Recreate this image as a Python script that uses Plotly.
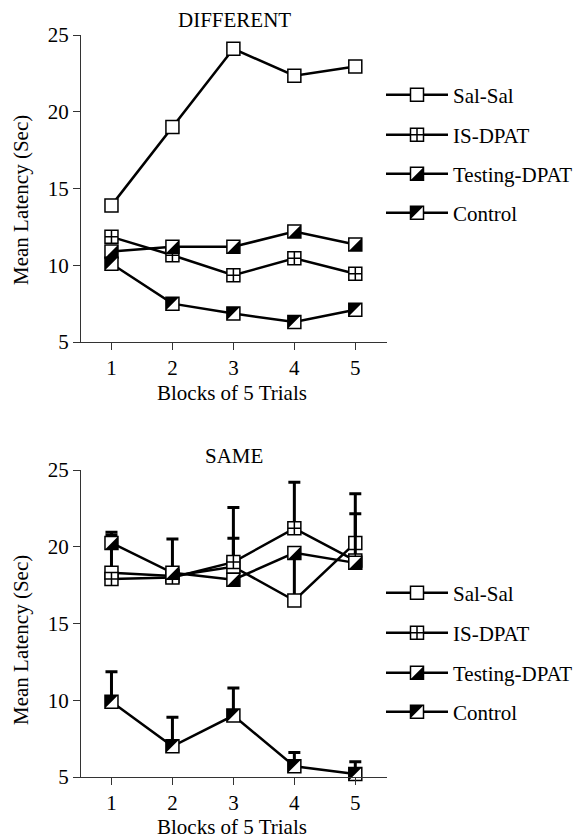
import plotly.graph_objects as go

# ---------------- data ----------------
blocks = [1, 2, 3, 4, 5]
series_names = ["Sal-Sal", "IS-DPAT", "Testing-DPAT", "Control"]

diff_sal_sal = [13.9, 19.0, 24.1, 22.35, 22.95]
diff_is_dpat = [11.85, 10.65, 9.35, 10.45, 9.45]
diff_testing_dpat = [10.9, 11.2, 11.2, 12.2, 11.35]
diff_control = [10.1, 7.5, 6.85, 6.3, 7.1]

same_sal_sal = [18.3, 18.1, 18.7, 16.5, 20.25]
same_is_dpat = [17.9, 18.0, 19.0, 21.2, 19.1]
same_testing_dpat = [20.25, 18.3, 17.85, 19.6, 18.95]
same_control = [9.9, 7.0, 9.0, 5.7, 5.2]

same_err_sal_sal = [2.45, 2.4, 1.85, 3.0, 3.2]
same_err_is_dpat = [0, 0, 3.55, 3.0, 3.05]
same_err_testing_dpat = [0.7, 0, 0, 0, 0]
same_err_control = [1.95, 1.9, 1.8, 0.9, 0.8]

y_ticks = [5, 10, 15, 20, 25]

# ---------------- layout constants ----------------
PAGE_OFF = 8                      # default body margin of the html page
W, H = 584 - PAGE_OFF, 839 - PAGE_OFF
FONT = "Times New Roman"
FS = 21
PX_L, PX_R = 81, 387
TOP_Y = (35, 342)
BOT_Y = (470, 777)
X_RANGE = [0.5, 5.52]
Y_RANGE = [5, 25]
MS = 13                  # square marker size
TS = MS * 10.0 / 9.0     # right-triangle marker size so that its legs equal the square side
SHIFT = MS / 6.0         # px shift (toward the right-angle corner) to align with the square

def fx(px):
    return (px - PAGE_OFF) / W

def fy(py):
    return 1 - (py - PAGE_OFF) / H

x_dom = [fx(PX_L), fx(PX_R)]
px_per_x = (PX_R - PX_L) / (X_RANGE[1] - X_RANGE[0])
px_per_y = (TOP_Y[1] - TOP_Y[0]) / (Y_RANGE[1] - Y_RANGE[0])
dxu = SHIFT / px_per_x
dyu = SHIFT / px_per_y

fig = go.Figure()

square_marker = dict(symbol="square", size=MS, color="white",
                     line=dict(color="black", width=1.5))
cross_marker = dict(symbol="square-cross", size=MS, color="white",
                    line=dict(color="black", width=1.5))
line_style = dict(color="black", width=2.5)


def add_panel(xa, ya, xa_t, ya_t, xa_c, ya_c, sal, isd, tes, con, errs, leg_ids):
    specs = [(sal, square_marker), (isd, cross_marker),
             (tes, square_marker), (con, square_marker)]
    for i, (vals, mk) in enumerate(specs):
        kw = {}
        if errs is not None:
            kw["error_y"] = dict(type="data", symmetric=False, array=errs[i],
                                 arrayminus=[0] * len(vals), color="black",
                                 thickness=3, width=6)
        fig.add_trace(go.Scatter(
            x=blocks, y=vals, name=series_names[i], mode="lines+markers",
            line=line_style, marker=mk, xaxis=xa, yaxis=ya,
            legend=leg_ids[i], cliponaxis=False, **kw))
    # half-black overlays (lower-right black for Testing-DPAT, upper-left black for Control)
    fig.add_trace(go.Scatter(
        x=blocks, y=tes, name=" ", mode="markers",
        marker=dict(symbol="triangle-se", size=TS, color="black", line=dict(width=0)),
        xaxis=xa_t, yaxis=ya_t, legend=leg_ids[4], cliponaxis=False))
    fig.add_trace(go.Scatter(
        x=blocks, y=con, name=" ", mode="markers",
        marker=dict(symbol="triangle-nw", size=TS, color="black", line=dict(width=0)),
        xaxis=xa_c, yaxis=ya_c, legend=leg_ids[5], cliponaxis=False))


add_panel("x", "y", "x3", "y3", "x4", "y4",
          diff_sal_sal, diff_is_dpat, diff_testing_dpat, diff_control, None,
          ["legend", "legend2", "legend3", "legend4", "legend5", "legend6"])
add_panel("x2", "y2", "x5", "y5", "x6", "y6",
          same_sal_sal, same_is_dpat, same_testing_dpat, same_control,
          [same_err_sal_sal, same_err_is_dpat, same_err_testing_dpat, same_err_control],
          ["legend7", "legend8", "legend9", "legend10", "legend11", "legend12"])

axis_common = dict(showline=True, linecolor="#333", linewidth=1.2, ticks="outside",
                   ticklen=7, tickwidth=1.2, tickcolor="#333", showgrid=False,
                   zeroline=False, automargin=False,
                   tickfont=dict(family=FONT, size=FS, color="black"))

layout = dict(
    width=W, height=H, autosize=False,
    margin=dict(l=0, r=0, t=0, b=0, pad=0, autoexpand=False),
    paper_bgcolor="white", plot_bgcolor="white",
    showlegend=True,
    font=dict(family=FONT, size=FS, color="black"),
    xaxis=dict(domain=x_dom, range=X_RANGE, tickvals=blocks, anchor="y", **axis_common),
    yaxis=dict(domain=[fy(TOP_Y[1]), fy(TOP_Y[0])], range=Y_RANGE, tickvals=y_ticks,
               anchor="x", **axis_common),
    xaxis2=dict(domain=x_dom, range=X_RANGE, tickvals=blocks, anchor="y2", **axis_common),
    yaxis2=dict(domain=[fy(BOT_Y[1]), fy(BOT_Y[0])], range=Y_RANGE, tickvals=y_ticks,
                anchor="x2", **axis_common),
)

hidden = dict(visible=False, showgrid=False, zeroline=False, automargin=False)
layout["xaxis3"] = dict(overlaying="x", anchor="y3", range=[X_RANGE[0] - dxu, X_RANGE[1] - dxu], **hidden)
layout["yaxis3"] = dict(overlaying="y", anchor="x3", range=[Y_RANGE[0] + dyu, Y_RANGE[1] + dyu], **hidden)
layout["xaxis4"] = dict(overlaying="x", anchor="y4", range=[X_RANGE[0] + dxu, X_RANGE[1] + dxu], **hidden)
layout["yaxis4"] = dict(overlaying="y", anchor="x4", range=[Y_RANGE[0] - dyu, Y_RANGE[1] - dyu], **hidden)
layout["xaxis5"] = dict(overlaying="x2", anchor="y5", range=[X_RANGE[0] - dxu, X_RANGE[1] - dxu], **hidden)
layout["yaxis5"] = dict(overlaying="y2", anchor="x5", range=[Y_RANGE[0] + dyu, Y_RANGE[1] + dyu], **hidden)
layout["xaxis6"] = dict(overlaying="x2", anchor="y6", range=[X_RANGE[0] + dxu, X_RANGE[1] + dxu], **hidden)
layout["yaxis6"] = dict(overlaying="y2", anchor="x6", range=[Y_RANGE[0] - dyu, Y_RANGE[1] - dyu], **hidden)

# legends: one per entry so positions match exactly
LEG_X = 381
top_leg_y = [95, 135, 174, 213]
bot_leg_y = [593, 633, 673, 712]

def leg(px, py, transparent=False):
    return dict(x=fx(px), y=fy(py), xanchor="left", yanchor="middle",
                bgcolor="rgba(0,0,0,0)", borderwidth=0, itemwidth=62,
                font=dict(family=FONT, size=FS,
                          color="rgba(0,0,0,0)" if transparent else "black"))

for base, ys in ((0, top_leg_y), (6, bot_leg_y)):
    names = ["legend" if base == 0 else "legend%d" % (base + 1)] + \
            ["legend%d" % (base + k) for k in range(2, 7)]
    for k in range(4):
        layout[names[k]] = leg(LEG_X, ys[k])
    layout[names[4]] = leg(LEG_X + SHIFT, ys[2] + SHIFT, True)
    layout[names[5]] = leg(LEG_X - SHIFT, ys[3] - SHIFT, True)

ann = []
def text(s, px, py, angle=0):
    ann.append(dict(text=s, x=fx(px), y=fy(py), xref="paper", yref="paper",
                    xanchor="center", yanchor="middle", showarrow=False,
                    textangle=angle, font=dict(family=FONT, size=FS, color="black")))

text("DIFFERENT", 234, 20)
text("SAME", 234, 456)
text("Blocks of 5 Trials", 232, 393)
text("Blocks of 5 Trials", 232, 827)
text("Mean Latency (Sec)", 21, 200, -90)
text("Mean Latency (Sec)", 21, 640, -90)
layout["annotations"] = ann

fig.update_layout(**layout)
fig.write_html("out.html")
